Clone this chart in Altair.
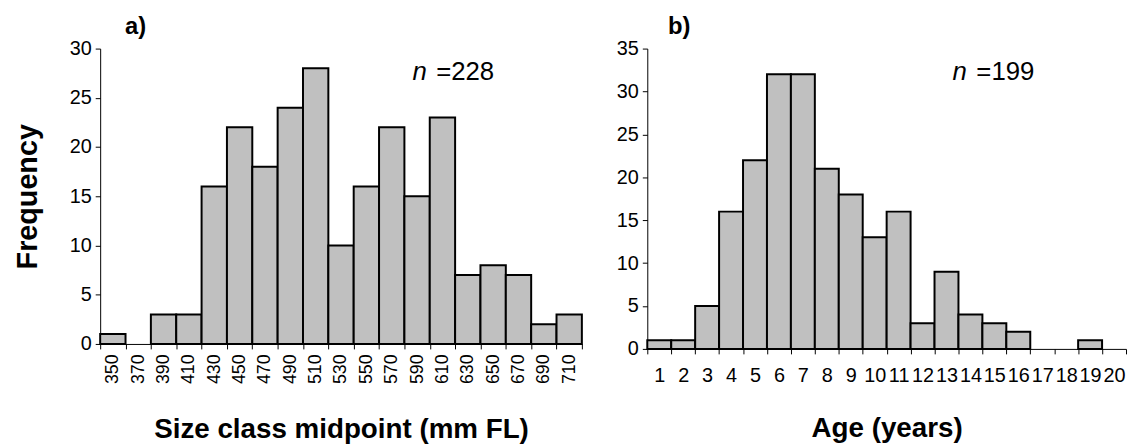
import altair as alt
import pandas as pd

FONT = "Liberation Sans"

size_classes = [350, 370, 390, 410, 430, 450, 470, 490, 510, 530, 550, 570,
                590, 610, 630, 650, 670, 690, 710]
size_freq = [1, 0, 3, 3, 16, 22, 18, 24, 28, 10, 16, 22, 15, 23, 7, 8, 7, 2, 3]

ages = list(range(1, 21))
age_freq = [1, 1, 5, 16, 22, 32, 32, 21, 18, 13, 16, 3, 9, 4, 3, 2, 0, 0, 1, 0]

label_a = "a)"
label_b = "b)"
n_a = "=228"
n_b = "=199"

dfa = pd.DataFrame({"cls": [str(c) for c in size_classes], "freq": size_freq})
dfb = pd.DataFrame({"age": [str(a) for a in ages], "freq": age_freq})

bar_style = dict(fill="#C0C0C0", stroke="black", strokeWidth=2)

def axis_common(**kw):
    base = dict(labelFont=FONT, titleFont=FONT, labelColor="black", titleColor="black",
                domainColor="black", tickColor="black", domainWidth=1, tickWidth=1,
                tickSize=5, grid=False)
    base.update(kw)
    return alt.Axis(**base)

def panel(df, field, domain, ymax, yvals, xtitle, ytitle, xaxis_kw, w, h, lab, nlab, lab_x, n_x):
    bars = alt.Chart(df[df.freq > 0]).mark_bar(**bar_style).encode(
        x=alt.X(f"{field}:N", sort=domain,
                scale=alt.Scale(domain=domain, paddingInner=0, paddingOuter=0),
                axis=axis_common(title=xtitle, tickBand="extent", titleFontSize=28,
                                 titleFontWeight="bold", **xaxis_kw)),
        y=alt.Y("freq:Q", scale=alt.Scale(domain=[0, ymax], nice=False, zero=True),
                axis=axis_common(values=yvals, title=ytitle, labelFontSize=20,
                                 titleFontSize=29, titleFontWeight="bold",
                                 titlePadding=27, labelPadding=4)),
    )
    one = pd.DataFrame({"k": [0]})
    t_lab = alt.Chart(one).mark_text(text=lab, font=FONT, fontSize=24, fontWeight="bold",
                                     align="left", baseline="alphabetic", color="black").encode(
        x=alt.value(lab_x), y=alt.value(-15))
    t_n = alt.Chart(one).mark_text(text="n", font=FONT, fontSize=26, fontStyle="italic",
                                   align="left", baseline="alphabetic", color="black").encode(
        x=alt.value(n_x), y=alt.value(32))
    t_v = alt.Chart(one).mark_text(text=nlab, font=FONT, fontSize=26,
                                   align="left", baseline="alphabetic", color="black").encode(
        x=alt.value(n_x + 24), y=alt.value(32))
    return alt.layer(bars, t_lab, t_n, t_v).properties(width=w, height=h)

pa = panel(dfa, "cls", [str(c) for c in size_classes], 30, list(range(0, 31, 5)),
           "Size class midpoint (mm FL)", "Frequency",
           dict(labelAngle=-90, labelFontSize=18, labelPadding=5, titlePadding=32),
           486, 298, label_a, n_a, 25, 315)
pb = panel(dfb, "age", [str(a) for a in ages], 35, list(range(0, 36, 5)),
           "Age (years)", "",
           dict(labelAngle=0, labelFontSize=20, labelPadding=12, titlePadding=29),
           483, 303, label_b, n_b, 21, 308)

chart = alt.hconcat(pa, pb, spacing=66, bounds="flush").properties(
    padding={"left": 5, "top": 5, "right": 0, "bottom": 0}
).configure_view(stroke=None)

chart.save("out.html", embed_options={"renderer": "svg", "actions": False})
